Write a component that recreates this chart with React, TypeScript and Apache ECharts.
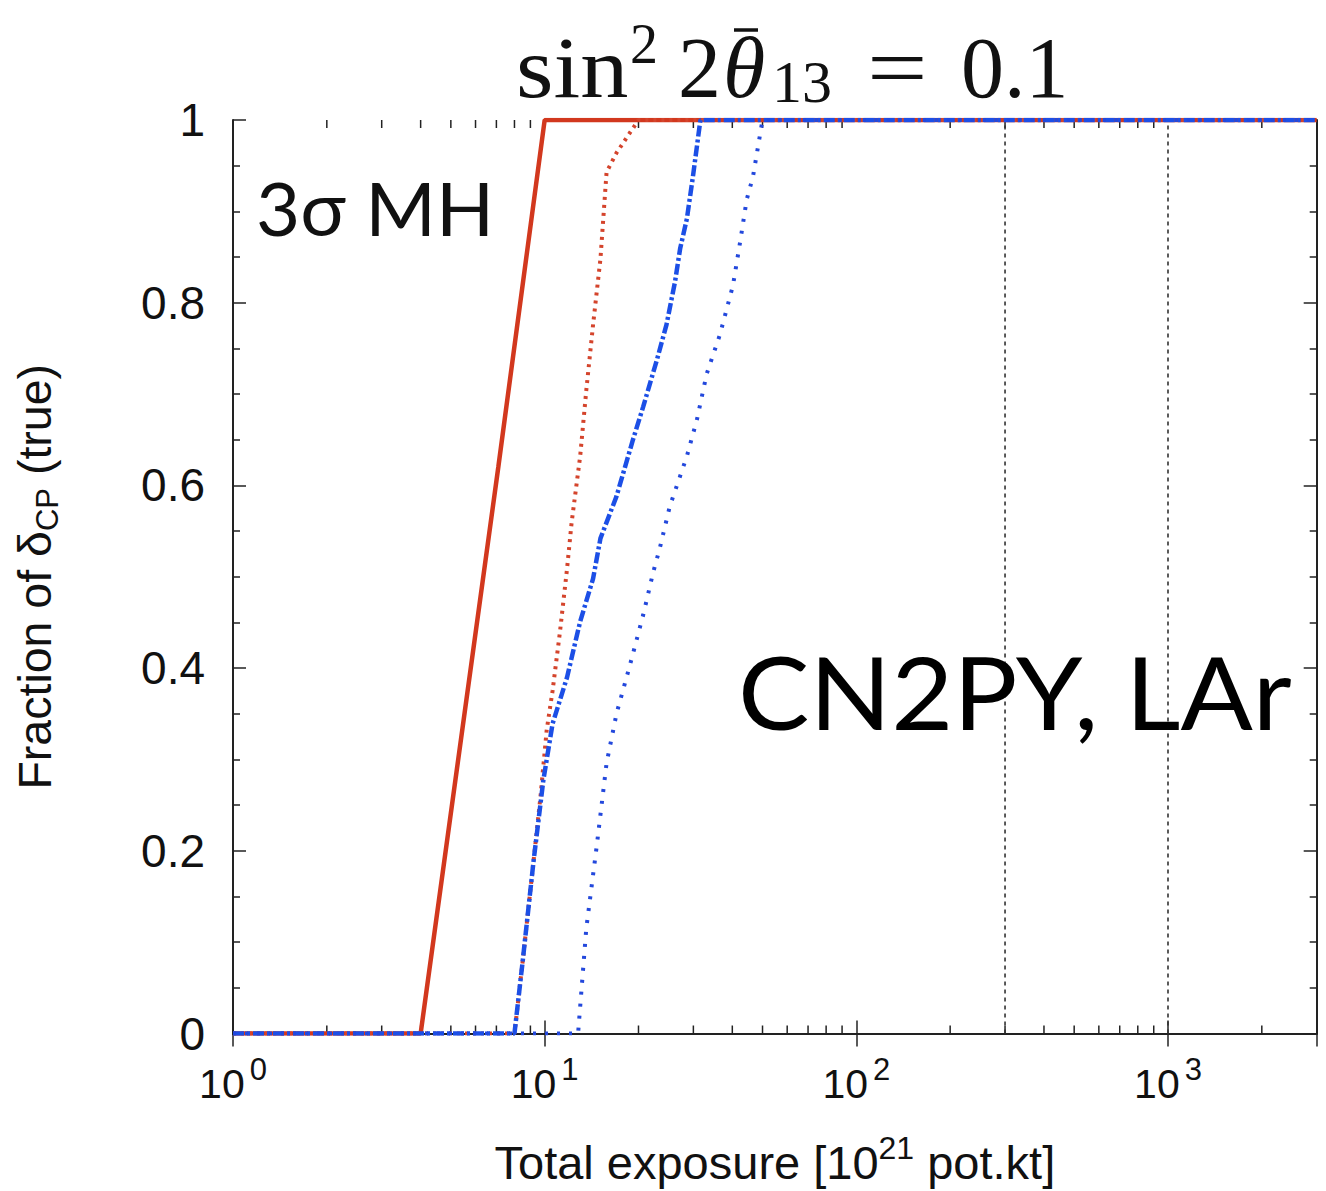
import React, { useEffect, useRef } from "react";
import * as echarts from "echarts";

// ---- data ----
const redSolidX = [1, 4.0, 7.1, 10.0, 3000];
const redSolidY = [0, 0, 0.62, 1, 1];

const redDottedX = [1, 8.0, 8.5, 9.2, 9.7, 10.15, 10.6, 11.2, 11.8, 12.2, 13.0, 13.6, 14.3, 15.1, 15.8, 17.0, 20.0, 3000];
const redDottedY = [0, 0, 0.079, 0.187, 0.26, 0.332, 0.375, 0.44, 0.509, 0.559, 0.632, 0.704, 0.776, 0.848, 0.943, 0.964, 1, 1];

const blueDashDotX = [1, 8.0, 8.5, 9.2, 9.9, 10.6, 11.8, 13.0, 14.3, 15.1, 17.0, 19.2, 20.7, 22.9, 24.6, 26.2, 27.2, 28.6, 29.9, 31.6, 3000];
const blueDashDotY = [0, 0, 0.079, 0.187, 0.277, 0.339, 0.39, 0.451, 0.498, 0.542, 0.588, 0.65, 0.686, 0.737, 0.776, 0.823, 0.859, 0.892, 0.938, 1, 1];

const blueDottedX = [1, 12.8, 13.6, 14.7, 15.8, 17.0, 18.8, 20.7, 22.3, 23.4, 25.2, 28.6, 30.8, 33.1, 36.5, 40.2, 42.4, 44.5, 46.6, 50.0, 3000];
const blueDottedY = [0, 0, 0.115, 0.206, 0.296, 0.35, 0.404, 0.458, 0.505, 0.531, 0.577, 0.632, 0.672, 0.722, 0.765, 0.819, 0.867, 0.913, 0.938, 1, 1];

const referenceLinesX = [300, 1000];

const xMinorTicks = [2, 3, 4, 5, 6, 7, 8, 9, 20, 30, 40, 50, 60, 70, 80, 90, 200, 300, 400, 500, 600, 700, 800, 900, 2000];

const X_MIN = 1;
const X_MAX = 3000;

const zip = (xs: number[], ys: number[]) => xs.map((x, i) => [x, ys[i]]);

const SANS = "'Liberation Sans', Arial, sans-serif";
const SERIF = "'Liberation Serif', 'Times New Roman', serif";
const GILL = "Lato, 'Noto Sans', sans-serif";
const INK = "#111";

export default function App() {
  const ref = useRef<HTMLDivElement>(null);

  useEffect(() => {
    if (!ref.current) return;
    const chart = echarts.init(ref.current, null, { renderer: "svg" });

    const xLabelFormatter = (v: number) => {
      const l = Math.log10(v);
      const e = Math.round(l);
      if (Math.abs(l - e) > 1e-6) return "";
      return `{b|10}{s|${e}}`;
    };

    const axisLine = { show: true, lineStyle: { color: "#222", width: 2 } };
    const tick = { show: true, inside: true, length: 13, lineStyle: { color: "#222", width: 1.5 } };

    const serifText = (text: string, x: number, y: number, size: number, italic = false, scaleX = 1) => ({
      type: "text",
      x,
      y,
      scaleX,
      z: 10,
      style: {
        text,
        font: `${italic ? "italic " : ""}${size}px ${SERIF}`,
        fill: INK,
        textAlign: "left",
        textVerticalAlign: "middle",
      },
    });

    const option: any = {
      animation: false,
      backgroundColor: "#fff",
      grid: { left: 233, top: 120, width: 1083.7, height: 923, containLabel: false },
      xAxis: [
        {
          type: "log",
          logBase: 10,
          min: X_MIN,
          max: X_MAX,
          position: "bottom",
          axisLine,
          axisTick: tick,
          splitLine: { show: false },
          axisLabel: {
            show: true,
            margin: 20,
            formatter: xLabelFormatter,
            color: INK,
            rich: {
              b: { fontFamily: SANS, fontSize: 41, color: INK },
              s: { fontFamily: SANS, fontSize: 31, color: INK, padding: [0, 0, 30, 5] },
            },
          },
          name: "Total exposure [10{s|21} pot.kt]",
          nameLocation: "middle",
          nameGap: 98,
          nameTextStyle: {
            fontFamily: SANS,
            fontSize: 47,
            color: INK,
            rich: {
              s: { fontFamily: SANS, fontSize: 32, color: INK, padding: [0, 0, 30, 0] },
            },
          },
        },
        {
          type: "log",
          logBase: 10,
          min: X_MIN,
          max: X_MAX,
          position: "top",
          axisLine,
          axisTick: tick,
          splitLine: { show: false },
          axisLabel: { show: false },
        },
      ],
      yAxis: [
        {
          type: "value",
          min: 0,
          max: 1,
          interval: 0.2,
          position: "left",
          axisLine,
          axisTick: tick,
          minorTick: { show: true, splitNumber: 4, length: 7, lineStyle: { color: "#222", width: 1.5 } },
          splitLine: { show: false },
          axisLabel: {
            show: true,
            margin: 28,
            fontFamily: SANS,
            fontSize: 46,
            color: INK,
            formatter: (v: number) => String(Math.round(v * 10) / 10),
          },
          name: "Fraction of δ{sub|CP} (true)",
          nameLocation: "middle",
          nameRotate: 90,
          nameGap: 170,
          nameTextStyle: {
            fontFamily: SANS,
            fontSize: 46.5,
            color: INK,
            rich: {
              sub: { fontFamily: SANS, fontSize: 31, color: INK, padding: [26, 0, 0, 0] },
            },
          },
        },
        {
          type: "value",
          min: 0,
          max: 1,
          interval: 0.2,
          position: "right",
          axisLine,
          axisTick: tick,
          minorTick: { show: true, splitNumber: 4, length: 7, lineStyle: { color: "#222", width: 1.5 } },
          splitLine: { show: false },
          axisLabel: { show: false },
        },
      ],
      series: [
        {
          name: "x minor ticks",
          type: "custom",
          xAxisIndex: 0,
          yAxisIndex: 0,
          clip: false,
          silent: true,
          data: xMinorTicks.map((v) => [v, 0]),
          renderItem: (params: any, api: any) => {
            const x = api.value(0);
            const b = api.coord([x, 0]);
            const t = api.coord([x, 1]);
            const st = { stroke: "#222", lineWidth: 1.5 };
            return {
              type: "group",
              children: [
                { type: "line", shape: { x1: b[0], y1: b[1], x2: b[0], y2: b[1] - 8 }, style: st },
                { type: "line", shape: { x1: t[0], y1: t[1], x2: t[0], y2: t[1] + 8 }, style: st },
              ],
            };
          },
          z: 1,
        },
        ...referenceLinesX.map((x) => ({
          name: `ref ${x}`,
          type: "line",
          xAxisIndex: 0,
          yAxisIndex: 0,
          symbol: "none",
          data: [
            [x, 0],
            [x, 1],
          ],
          lineStyle: { color: "#333", width: 1.6, type: [4, 4] },
          z: 2,
        })),
        {
          name: "red solid",
          type: "line",
          symbol: "none",
          data: zip(redSolidX, redSolidY),
          lineStyle: { color: "#d2381e", width: 4.5, type: "solid" },
          z: 3,
        },
        {
          name: "red dotted",
          type: "line",
          symbol: "none",
          data: zip(redDottedX, redDottedY),
          lineStyle: { color: "#d4442c", width: 4, type: [3, 5] },
          z: 4,
        },
        {
          name: "blue dash-dot",
          type: "line",
          symbol: "none",
          data: zip(blueDashDotX, blueDashDotY),
          lineStyle: { color: "#1c4fe6", width: 4.5, type: [11, 3, 3, 3] },
          z: 5,
        },
        {
          name: "blue dotted",
          type: "line",
          symbol: "none",
          data: zip(blueDottedX, blueDottedY),
          lineStyle: { color: "#2348dc", width: 4, type: [3, 9] },
          z: 6,
        },
      ],
      graphic: [
        // title: sin^2 2θ̄_13 = 0.1
        serifText("sin", 516, 68, 86, false, 1.12),
        serifText("2", 630, 44, 56),
        serifText("2", 678, 68, 86),
        serifText("θ", 723, 68, 86, true),
        {
          type: "line",
          z: 10,
          shape: { x1: 734, y1: 30, x2: 758, y2: 30 },
          style: { stroke: INK, lineWidth: 3.5 },
        },
        serifText("13", 772, 82, 60),
        serifText("=", 867, 68, 86, false, 1.25),
        serifText("0.1", 961, 68, 86),
        {
          type: "text",
          x: 256,
          y: 207,
          scaleX: 1.03,
          style: {
            text: "3σ MH",
            font: `74px ${GILL}`,
            fill: INK,
            textAlign: "left",
            textVerticalAlign: "middle",
          },
          z: 10,
        },
        {
          type: "text",
          x: 738,
          y: 691,
          scaleX: 1.07,
          style: {
            text: "CN2PY, LAr",
            font: `100px ${GILL}`,
            fill: "#000",
            textAlign: "left",
            textVerticalAlign: "middle",
          },
          z: 10,
        },
      ],
    };

    chart.setOption(option);
    return () => chart.dispose();
  }, []);

  return (
    <div
      ref={ref}
      style={{ position: "absolute", left: 0, top: 0, width: 1326, height: 1191, background: "#fff" }}
    />
  );
}
